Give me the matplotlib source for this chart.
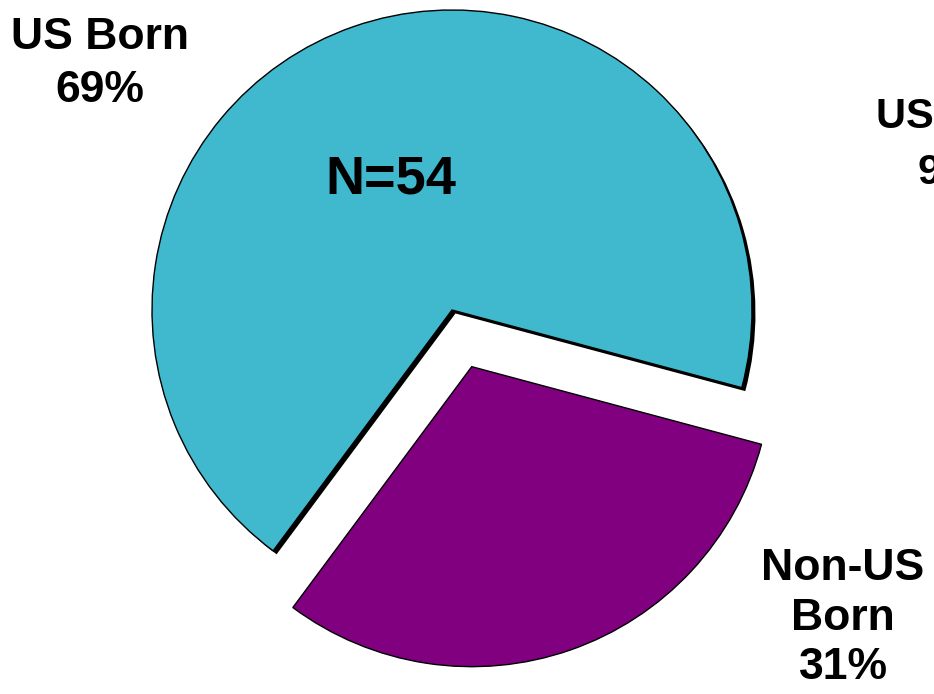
import matplotlib
matplotlib.use('Agg')
import matplotlib.pyplot as plt
import matplotlib.patheffects as pe

matplotlib.rcParams['font.family'] = ['Liberation Sans', 'DejaVu Sans']
matplotlib.rcParams['font.weight'] = 'bold'

# данные
labels = ['US Born', 'Non-US Born']
shares = [69, 31]
colors = ['#40B8CD', '#800080']
explode = [0, 0.2]
n_total = 54

W, H = 934, 694
fig = plt.figure(figsize=(W / 100, H / 100), dpi=100)
ax = fig.add_axes([0, 0, 1, 1])

# центр пирога ~ (452, 310) px, радиус ~ 300 px
cx, cy, r = 452, 310, 300
wedges, _ = ax.pie(shares, colors=colors, explode=explode, startangle=-15,
                   counterclock=True, radius=1,
                   wedgeprops=dict(edgecolor='black', linewidth=1.0))
wedges[0].set_path_effects([
    pe.SimplePatchShadow(offset=(2.5, -2.5), shadow_rgbFace='black', alpha=1.0),
    pe.Normal()])

ax.set_xlim(-cx / r, (W - cx) / r)
ax.set_ylim(-(H - cy) / r, cy / r)
ax.set_aspect('equal')
ax.axis('off')

def fx(px):
    return px / W

def fy(py):
    return 1 - py / H

fig.text(fx(100), fy(64), f'{labels[0]}\n{shares[0]}%', ha='center', va='center',
         fontsize=32, fontweight='bold', linespacing=1.4)
fig.text(fx(391), fy(180), f'N={n_total}', ha='center', va='center',
         fontsize=39, fontweight='bold')
fig.text(fx(843), fy(618), 'Non-US\nBorn\n' + f'{shares[1]}%', ha='center', va='center',
         fontsize=32, fontweight='bold', linespacing=1.26)
# обрезанная подпись соседнего графика справа (в оригинале тоже срезана краем)
fig.text(fx(959), fy(145), 'US Born\n93%', ha='center', va='center',
         fontsize=30, fontweight='bold', linespacing=1.5)

fig.savefig('out.png', dpi=100)
